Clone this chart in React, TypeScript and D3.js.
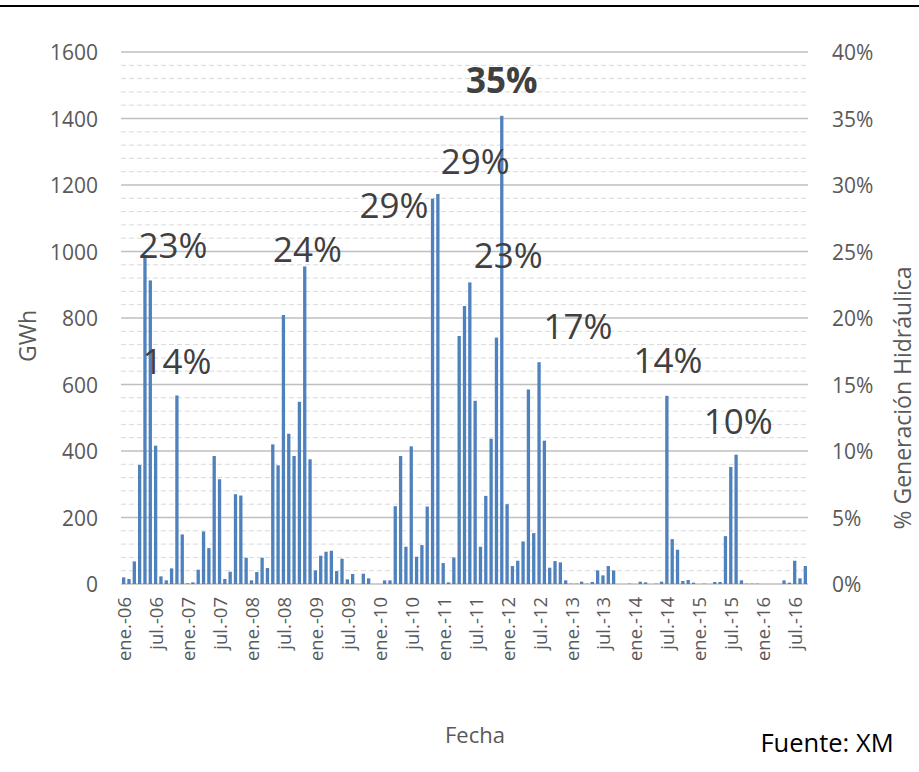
import React from "react";
import * as d3 from "d3";

const W = 919;
const H = 772;

// Monthly values (GWh), ene.-06 .. sep.-16
const startMonth = new Date(2006, 0, 1);
const endMonth = new Date(2016, 9, 1);
const months: Date[] = d3.timeMonth.range(startMonth, endMonth);

const gwh: number[] = [
  20, 15, 68, 358, 990, 913, 416, 23, 11, 47, 567, 149,
  2, 5, 43, 158, 108, 385, 315, 15, 37, 270, 266, 79,
  11, 36, 79, 48, 420, 357, 809, 452, 385, 548, 955, 375,
  41, 85, 97, 100, 39, 76, 14, 30, 0, 31, 17, 0,
  0, 11, 11, 234, 385, 112, 414, 82, 117, 233, 1159, 1173,
  63, 5, 80, 746, 836, 907, 551, 112, 265, 437, 741, 1408,
  240, 54, 70, 128, 585, 153, 667, 431, 49, 69, 65, 11,
  1, 1, 7, 1, 6, 41, 26, 54, 41, 0, 0, 1,
  0, 7, 5, 0, 1, 7, 566, 135, 103, 9, 12, 4,
  0, 1, 0, 6, 6, 144, 352, 389, 11, 1, 1, 1,
  0, 0, 0, 0, 11, 4, 70, 17, 54,
];

const leftTicks: number[] = [0, 200, 400, 600, 800, 1000, 1200, 1400, 1600];
const rightTicks: number[] = [0, 0.05, 0.1, 0.15, 0.2, 0.25, 0.3, 0.35, 0.4];
const monthNames: string[] = ["ene.", "feb.", "mar.", "abr.", "may.", "jun.", "jul.", "ago.", "sep.", "oct.", "nov.", "dic."];

// Annotated percentages: month position, GWh level of label centre, text
const annoMonth: number[] = [9.26, 10.0, 34.5, 71, 66, 50.75, 72.2, 85.3, 102.2, 115.4];
const annoLevel: number[] = [1022, 671, 1008, 1516, 1275, 1140, 992, 776, 674, 493];
const annoText: string[] = ["23%", "14%", "24%", "35%", "29%", "29%", "23%", "17%", "14%", "10%"];
const annoBold: boolean[] = [false, false, false, true, false, false, false, false, false, false];

const FONT = "'Open Sans', 'Liberation Sans', sans-serif";
const GRAY = "#595959";

export default function App() {
  const left = 121, right = 808, top = 52, bottom = 584;

  const x = d3
    .scaleBand<number>()
    .domain(d3.range(months.length))
    .range([left, right])
    .paddingInner(0.38)
    .paddingOuter(0.19);
  const y = d3.scaleLinear().domain([0, 1600]).range([bottom, top]);
  const yR = d3.scaleLinear().domain([0, 0.4]).range([bottom, top]);
  const xc = (i: number) => x(0)! + x.bandwidth() / 2 + i * x.step();

  const minor = d3.range(0, 1600 + 1, 40).filter((v) => v % 200 !== 0);
  const fmtPct = d3.format(".0%");
  const labelIdx = d3.range(0, months.length, 6);

  return (
    <div style={{ position: "absolute", left: 0, top: 0 }}>
      <svg width={W} height={H} style={{ display: "block", background: "#fff" }}>
        <line x1={0} x2={W} y1={6} y2={6} stroke="#000" strokeWidth={2} />
        {minor.map((v) => (
          <line key={"m" + v} x1={left} x2={right} y1={y(v)} y2={y(v)} stroke="#d9d9d9" strokeWidth={1} strokeDasharray="5,3" />
        ))}
        {leftTicks.map((v) => (
          <line key={"g" + v} x1={left} x2={right} y1={y(v)} y2={y(v)} stroke="#bfbfbf" strokeWidth={1.4} />
        ))}
        {gwh.map((v, i) => (
          <rect key={i} x={x(i)} y={y(v)} width={x.bandwidth()} height={y(0) - y(v)} fill="#4f81bd" />
        ))}
        {leftTicks.map((v) => (
          <text key={"l" + v} x={98} y={y(v)} textAnchor="end" dominantBaseline="central" fontFamily={FONT} fontSize={21} fill={GRAY}>
            {v}
          </text>
        ))}
        {rightTicks.map((v) => (
          <text key={"r" + v} x={832} y={yR(v)} textAnchor="start" dominantBaseline="central" fontFamily={FONT} fontSize={21} fill={GRAY}>
            {fmtPct(v)}
          </text>
        ))}
        {labelIdx.map((i) => {
          const d = months[i];
          const t = monthNames[d.getMonth()] + "-" + d3.timeFormat("%y")(d);
          const cx = xc(i);
          return (
            <text key={"d" + i} transform={`translate(${cx},${597}) rotate(-90)`} textAnchor="end" dominantBaseline="central" fontFamily={FONT} fontSize={18.5} fill={GRAY}>
              {t}
            </text>
          );
        })}
        {annoText.map((t, k) => (
          <text key={"a" + k} x={xc(annoMonth[k])} y={y(annoLevel[k])} textAnchor="middle" dominantBaseline="central" fontFamily={FONT} fontSize={35} fontWeight={annoBold[k] ? 700 : 400} fill="#404040">
            {t}
          </text>
        ))}
        <text transform={`translate(27,336) rotate(-90)`} textAnchor="middle" dominantBaseline="central" fontFamily={FONT} fontSize={23} fill={GRAY}>
          GWh
        </text>
        <text transform={`translate(902,398) rotate(-90)`} textAnchor="middle" dominantBaseline="central" fontFamily={FONT} fontSize={23} fill={GRAY}>
          % Generación Hidráulica
        </text>
        <text x={475} y={734} textAnchor="middle" dominantBaseline="central" fontFamily={FONT} fontSize={22} fill={GRAY}>
          Fecha
        </text>
        <text x={827} y={742} textAnchor="middle" dominantBaseline="central" fontFamily={FONT} fontSize={25.5} fill="#000">
          Fuente: XM
        </text>
      </svg>
    </div>
  );
}
